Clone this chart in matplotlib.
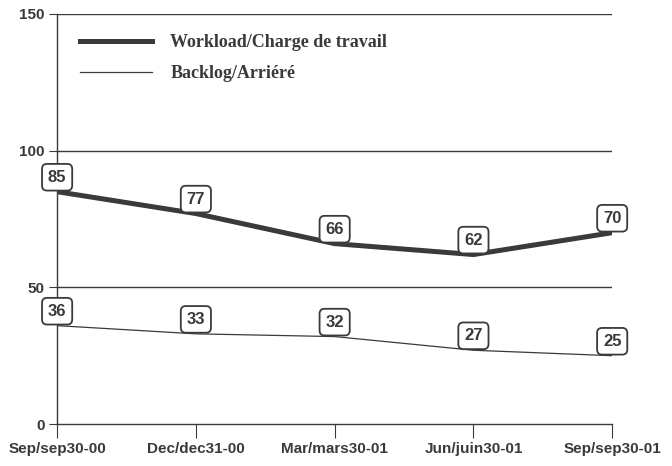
import matplotlib
matplotlib.use("Agg")
from matplotlib import pyplot as plt

# data
dates = ['Sep/sep30-00', 'Dec/dec31-00', 'Mar/mars30-01', 'Jun/juin30-01', 'Sep/sep30-01']
workload = [85, 77, 66, 62, 70]
backlog = [36, 33, 32, 27, 25]

dark = '#3a3a3a'

fig = plt.figure(figsize=(6.72, 4.66), dpi=100)
ax = fig.add_axes([0.085, 0.090, 0.826, 0.880])

x = list(range(len(dates)))
ax.plot(x, workload, color=dark, linewidth=3.6, label='Workload/Charge de travail', zorder=3)
ax.plot(x, backlog, color=dark, linewidth=0.9, label='Backlog/Arriéré', zorder=3)

# value boxes sitting on top of each point
for series in (workload, backlog):
    for xi, v in zip(x, series):
        ax.annotate(str(v), (xi, v), xytext=(0, 5), textcoords='offset points',
                    ha='center', va='bottom', fontsize=12, fontweight='bold',
                    family='Liberation Sans', color=dark, zorder=5,
                    bbox=dict(boxstyle='round,pad=0.35,rounding_size=0.3',
                              fc='white', ec=dark, lw=1.3))

ax.set_xlim(0, 4)
ax.set_ylim(0, 150)
ax.set_yticks([0, 50, 100, 150])
ax.set_xticks(x)
ax.set_xticklabels(dates)

for y in (50, 100, 150):
    ax.axhline(y, color=dark, linewidth=1.0, zorder=1)

for s in ('top', 'right'):
    ax.spines[s].set_visible(False)
ax.spines['left'].set_color(dark)
ax.spines['bottom'].set_color(dark)
ax.spines['left'].set_linewidth(1.0)
ax.spines['bottom'].set_linewidth(1.0)

ax.tick_params(axis='y', length=6, color=dark, pad=3)
ax.tick_params(axis='x', length=10, color=dark, pad=3)
for lab in ax.get_xticklabels() + ax.get_yticklabels():
    lab.set_family('Liberation Sans')
    lab.set_fontweight('bold')
    lab.set_fontsize(11)
    lab.set_color(dark)

ax.legend(loc='upper left', bbox_to_anchor=(0.012, 0.99), frameon=False,
          handlelength=4.0, handletextpad=1.0, labelspacing=0.75,
          prop={'family': 'Liberation Serif', 'weight': 'bold', 'size': 13},
          labelcolor=dark)

fig.savefig('out.png', dpi=100)
